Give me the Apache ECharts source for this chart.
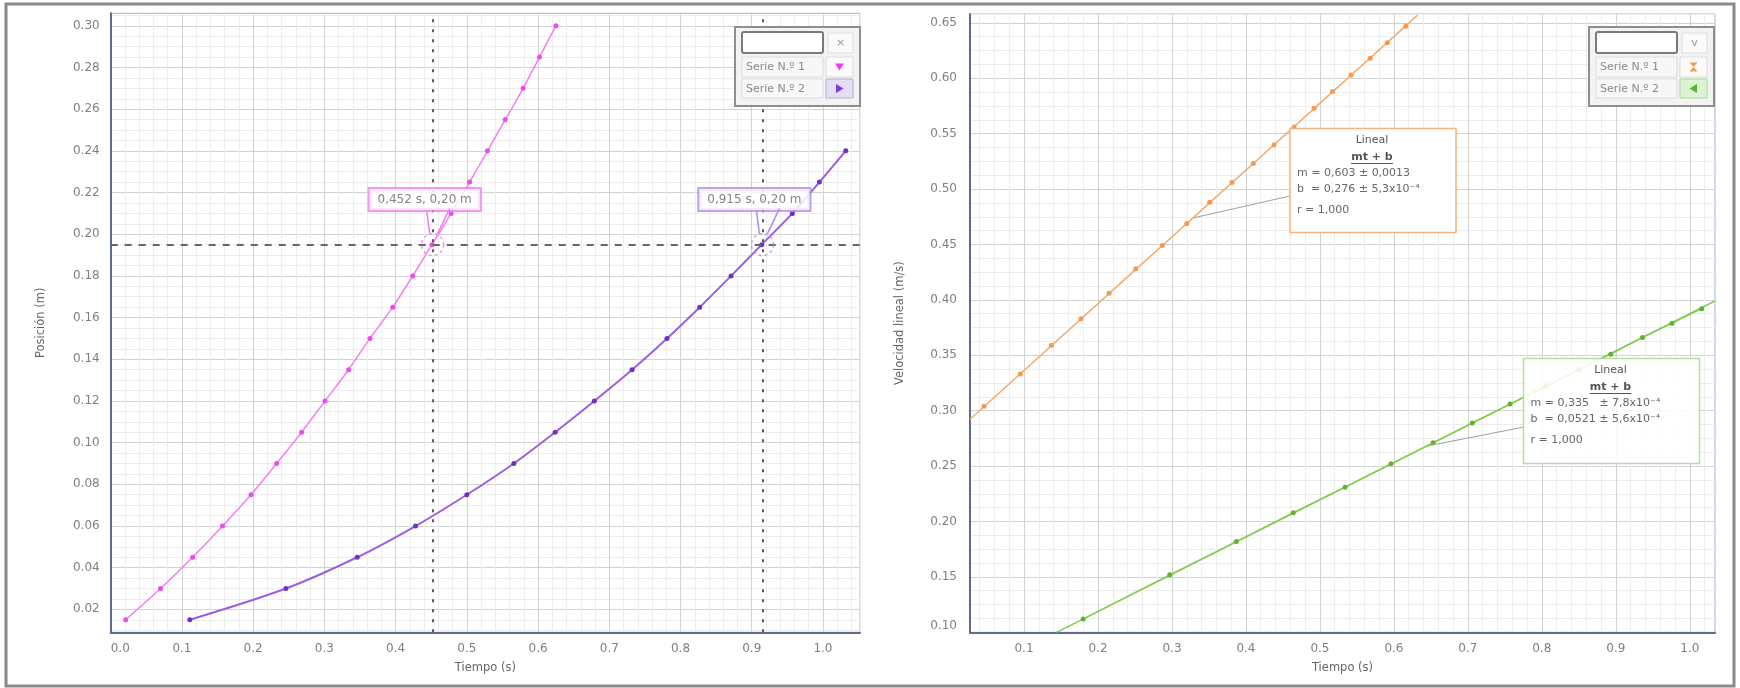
<!DOCTYPE html>
<html><head><meta charset="utf-8">
<script src="https://cdn.jsdelivr.net/npm/echarts@6/dist/echarts.min.js"></script>
<style>html,body{margin:0;padding:0;background:#fff}#c{width:1740px;height:688px}</style>
</head><body><div id="c"></div>
<script>
// ---- data ----
const posT1 = [0.021,0.070,0.115,0.157,0.197,0.233,0.268,0.301,0.334,0.364,0.396,0.424,0.451,0.478,0.504,0.529,0.554,0.579,0.602,0.625];
const posY1 = [0.015,0.030,0.045,0.060,0.075,0.090,0.105,0.120,0.135,0.150,0.165,0.180,0.195,0.210,0.225,0.240,0.255,0.270,0.285,0.300];
const posT2 = [0.111,0.246,0.346,0.428,0.500,0.566,0.624,0.679,0.732,0.781,0.827,0.871,0.914,0.957,0.995,1.032];
const posY2 = [0.015,0.030,0.045,0.060,0.075,0.090,0.105,0.120,0.135,0.150,0.165,0.180,0.195,0.210,0.225,0.240];
const velT1 = [0.046,0.095,0.137,0.177,0.215,0.251,0.287,0.320,0.351,0.381,0.410,0.438,0.465,0.492,0.517,0.542,0.568,0.591,0.616];
const velV1 = [0.304,0.333,0.359,0.383,0.406,0.428,0.449,0.469,0.488,0.506,0.523,0.540,0.556,0.573,0.588,0.603,0.618,0.632,0.647];
const velT2 = [0.180,0.297,0.387,0.464,0.534,0.596,0.653,0.706,0.757,0.805,0.850,0.893,0.936,0.976,1.016];
const velV2 = [0.112,0.152,0.182,0.208,0.231,0.252,0.271,0.289,0.306,0.322,0.337,0.351,0.366,0.379,0.392];
const fitLine1 = [[0.027,0.2923],[0.632,0.657]];
const fitLine2 = [[0.144,0.100],[1.034,0.399]];
const crossT = [0.452, 0.915];
const crossY = 0.195;
const crossLabels = ['0,452 s, 0,20 m', '0,915 s, 0,20 m'];
const seriesNames = ['Serie N.º 1', 'Serie N.º 2'];
const fit1Text = ['Lineal', 'mt + b', 'm = 0,603 ± 0,0013', 'b  = 0,276 ± 5,3x10⁻⁴', 'r = 1,000'];
const fit2Text = ['Lineal', 'mt + b', 'm = 0,335   ± 7,8x10⁻⁴', 'b  = 0,0521 ± 5,6x10⁻⁴', 'r = 1,000'];
const fit1Anchor = [0.329, 0.474];
const fit2Anchor = [0.644, 0.268];
const posRangeT = [0, 1.052], posRangeY = [0.009, 0.306];
const velRangeT = [0.027, 1.034], velRangeV = [0.1, 0.658];

// ---- helpers ----
const FONT = 'DejaVu Sans';
const C_MINOR = '#ededed', C_MAJOR = '#d2d2d2', CLEAR = 'rgba(0,0,0,0)';
function mult(v, s){ const r = v / s; return Math.abs(r - Math.round(r)) < 1e-6; }
function gridColors(min, step, minor, major){
  const u0 = Math.round(min / step), per = Math.round(major / step), mi = Math.round(minor / step);
  const arr = [];
  for (let k = 0; k < per; k++) {
    const u = u0 + k;
    arr.push(u % per === 0 ? C_MAJOR : (u % mi === 0 ? C_MINOR : CLEAR));
  }
  return arr;
}
function valAxis(o){
  return {
    type:'value', gridIndex:o.g, min:o.range[0], max:o.range[1], interval:o.step,
    name:o.name, nameLocation:'middle', nameGap:o.nameGap, nameRotate:o.rot,
    nameTextStyle:{color:'#666', fontFamily:FONT, fontSize:11.5},
    axisLine:{show:true, onZero:false, lineStyle:{color:'#5f6a92', width:2}},
    axisTick:{show:false},
    minorTick:{show:false}, minorSplitLine:{show:false},
    axisLabel:Object.assign({show:true, margin:o.margin, color:'#808080', fontFamily:FONT, fontSize:12,
      formatter:v => mult(v, o.major) ? v.toFixed(o.dec) : ''}, o.labelExtra || {}),
    splitLine:{show:true, showMinLine:true, showMaxLine:true,
      lineStyle:{width:1, type:'solid', color:gridColors(o.range[0], o.step, o.minor, o.major)}}
  };
}
const pairs = (a, b) => a.map((t, i) => [t, b[i]]);

const chart = echarts.init(document.getElementById('c'), null, {renderer:'canvas', width:1740, height:688});

const crossColors = ['#f07af0', '#b48ae6'];
const vStyle = {color:'#5a5a5a', width:2, type:[3,7]};
const option = {
  animation:false,
  backgroundColor:'#fff',
  grid:[
    {left:110.7, top:13.3, width:749.3, height:619, show:true, borderColor:'#a7b0d6', borderWidth:1, backgroundColor:'#fff'},
    {left:970, top:14, width:745, height:618.3, show:true, borderColor:'#a7b0d6', borderWidth:1, backgroundColor:'#fff'}
  ],
  xAxis:[
    valAxis({g:0, range:posRangeT, step:0.02, minor:0.02, major:0.1, dec:1, name:'Tiempo (s)', nameGap:30, margin:11,
      labelExtra:{alignMinLabel:'left'}}),
    valAxis({g:1, range:velRangeT, step:0.001, minor:0.02, major:0.1, dec:1, name:'Tiempo (s)', nameGap:30, margin:11})
  ],
  yAxis:[
    valAxis({g:0, range:posRangeY, step:0.001, minor:0.005, major:0.02, dec:2, name:'Posición (m)', nameGap:64, rot:90, margin:11}),
    valAxis({g:1, range:velRangeV, step:0.0125, minor:0.0125, major:0.05, dec:2, name:'Velocidad lineal (m/s)', nameGap:64, rot:90, margin:13,
      labelExtra:{verticalAlignMinLabel:'bottom'}})
  ],
  series:[
    {type:'line', name:seriesNames[0], xAxisIndex:0, yAxisIndex:0, data:pairs(posT1, posY1), smooth:0.3,
      symbol:'circle', symbolSize:5, showSymbol:true, lineStyle:{color:'#f57df5', width:1.5}, itemStyle:{color:'#ee4bee'}, z:3},
    {type:'line', name:seriesNames[1], xAxisIndex:0, yAxisIndex:0, data:pairs(posT2, posY2), smooth:0.3,
      symbol:'circle', symbolSize:5, showSymbol:true, lineStyle:{color:'#9a5fe3', width:2}, itemStyle:{color:'#6c30c8'}, z:3},
    {type:'scatter', name:'cross', xAxisIndex:0, yAxisIndex:0, z:10, symbol:'circle', symbolSize:22, silent:true,
      data:crossT.map((t, i) => ({value:[t, crossY],
        itemStyle:{color:CLEAR, borderColor:crossColors[i], borderWidth:1.5, borderType:[3,3]},
        label:{show:true, formatter:crossLabels[i], position:'top', distance:23, offset:[-8,0],
          backgroundColor:'#fff', borderColor:crossColors[i], borderWidth:2, padding:[5,8,4,8],
          color:'#666', fontFamily:FONT, fontSize:12}})),
      markLine:{silent:true, symbol:['none','none'], label:{show:false}, animation:false,
        data:[
          [{coord:[crossT[0], posRangeY[0]], lineStyle:vStyle}, {coord:[crossT[0], posRangeY[1]]}],
          [{coord:[crossT[1], posRangeY[0]], lineStyle:vStyle}, {coord:[crossT[1], posRangeY[1]]}],
          [{coord:[posRangeT[0], crossY], lineStyle:{color:'#666', width:2, type:[7,7]}}, {coord:[posRangeT[1], crossY]}]
        ]}},
    {type:'line', name:'fit1', xAxisIndex:1, yAxisIndex:1, data:fitLine1, symbol:'none',
      lineStyle:{color:'#f7ad70', width:1.5}, z:2, clip:true},
    {type:'line', name:seriesNames[0] + ' v', xAxisIndex:1, yAxisIndex:1, data:pairs(velT1, velV1),
      symbol:'circle', symbolSize:5, lineStyle:{color:'#f7ad70', width:1}, itemStyle:{color:'#f59a4c'}, z:3},
    {type:'line', name:'fit2', xAxisIndex:1, yAxisIndex:1, data:fitLine2, symbol:'none',
      lineStyle:{color:'#82cc50', width:1.5}, z:2, clip:true},
    {type:'line', name:seriesNames[1] + ' v', xAxisIndex:1, yAxisIndex:1, data:pairs(velT2, velV2),
      symbol:'circle', symbolSize:5, lineStyle:{color:'#82cc50', width:1.2}, itemStyle:{color:'#5db52f'}, z:3}
  ]
};
chart.setOption(option);

// ---- annotations (legend boxes, fit boxes, pointers, frame) ----
const g = [];
const Z = 100;
function rect(x, y, w, h, fill, stroke, lw, r){ g.push({type:'rect', z:Z, silent:true, shape:{x, y, width:w, height:h, r:r||0}, style:{fill, stroke, lineWidth:lw}}); }
function text(x, y, t, o){ g.push({type:'text', z:Z+1, silent:true, style:Object.assign({x, y, text:t, fill:'#666', font:'11px "' + FONT + '"', align:'left', verticalAlign:'middle'}, o||{})}); }
function line(x1, y1, x2, y2, stroke, lw){ g.push({type:'line', z:Z, silent:true, shape:{x1, y1, x2, y2}, style:{stroke, lineWidth:lw}}); }
function poly(pts, fill){ g.push({type:'polygon', z:Z+1, silent:true, shape:{points:pts}, style:{fill}}); }

// outer frame
g.push({type:'rect', z:Z, silent:true, shape:{x:6, y:4, width:1728, height:682}, style:{fill:'none', stroke:'#8a8a8a', lineWidth:3}});

function legendBox(x0, btn, m1, m2cell, m2){
  rect(x0, 27, 125, 79, '#f3f3f3', '#8e8e8e', 2);
  rect(x0 + 7, 32, 81, 21, '#fff', '#7a7a7a', 2, 2);
  rect(x0 + 93, 33, 25, 20, '#fafafa', '#dcdcdc', 1);
  text(x0 + 105.5, 43, btn, {align:'center', fill:'#9a9a9a'});
  rect(x0 + 7, 57, 81, 20, '#f7f7f7', '#dcdcdc', 1);
  text(x0 + 11, 67.5, seriesNames[0], {fill:'#8a8a8a'});
  rect(x0 + 91, 57, 27, 20, '#fafafa', '#dcdcdc', 1);
  m1(x0 + 104.5, 67);
  rect(x0 + 7, 79, 81, 19, '#f7f7f7', '#dcdcdc', 1);
  text(x0 + 11, 89, seriesNames[1], {fill:'#8a8a8a'});
  rect(x0 + 91, 79, 27, 19, m2cell[0], m2cell[1], 1);
  m2(x0 + 104.5, 88.5);
}
legendBox(735, '×',
  (cx, cy) => poly([[cx-4.5, cy-3.5],[cx+4.5, cy-3.5],[cx, cy+3.5]], '#ee3cee'),
  ['#e6ddf6', '#b7b0cc'],
  (cx, cy) => poly([[cx-3.5, cy-4.5],[cx-3.5, cy+4.5],[cx+4, cy]], '#7b3fd6'));
legendBox(1589, 'v',
  (cx, cy) => poly([[cx-4, cy-4.5],[cx+4, cy-4.5],[cx, cy],[cx+4, cy+4.5],[cx-4, cy+4.5],[cx, cy]], '#f59a40'),
  ['#ddf2d2', '#a9d696'],
  (cx, cy) => poly([[cx+3.5, cy-4.5],[cx+3.5, cy+4.5],[cx-4, cy]], '#55b52a'));

// crosshair pointers
crossT.forEach((t, i) => {
  const p = chart.convertToPixel({xAxisIndex:0, yAxisIndex:0}, [t, crossY]);
  line(p[0]-6, p[1]-34, p[0]-3, p[1]-11, crossColors[i], 1.5);
  line(p[0]+17, p[1]-36, p[0]+5, p[1]-11, crossColors[i], 1.5);
});

// fit boxes
function fitBox(x, y, w, h, stroke, fill, lines, anchor, from){
  const p = chart.convertToPixel({xAxisIndex:1, yAxisIndex:1}, anchor);
  line(from[0], from[1], p[0], p[1], '#a0a0a0', 1);
  rect(x, y, w, h, fill, stroke, 1.5);
  const cx = x + w / 2 - 1;
  text(cx, y + 12, lines[0], {align:'center', fill:'#555'});
  text(cx, y + 28.5, lines[1], {align:'center', fill:'#555', font:'bold 11px "' + FONT + '"'});
  line(cx - 21, y + 35, cx + 21, y + 35, '#555', 1);
  text(x + 7, y + 44.5, lines[2], {fill:'#666'});
  text(x + 7, y + 60.5, lines[3], {fill:'#666'});
  text(x + 7, y + 82, lines[4], {fill:'#666'});
}
fitBox(1290, 128.5, 166, 104, '#f6b27a', 'rgba(255,255,255,0.96)', fit1Text, fit1Anchor, [1290, 196]);
fitBox(1523.5, 358.5, 176, 105, '#b5dd9e', 'rgba(255,255,255,0.88)', fit2Text, fit2Anchor, [1524, 427]);

chart.setOption({graphic:{elements:g}});
</script>
</body></html>
